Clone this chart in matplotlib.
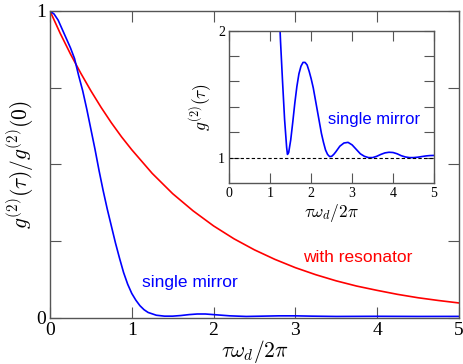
import matplotlib
matplotlib.use("Agg")
import matplotlib.pyplot as plt

plt.rcParams['mathtext.fontset'] = 'cm'

# main panel data
red_x = [0, 0.125, 0.25, 0.375, 0.5, 0.625, 0.75, 0.875, 1.0, 1.25, 1.5, 1.75, 2.0,
         2.25, 2.5, 2.75, 3.0, 3.25, 3.5, 3.75, 4.0, 4.25, 4.5, 4.75, 5.0]
red_y = [1.0, 0.927, 0.860, 0.798, 0.740, 0.686, 0.636, 0.590, 0.548, 0.471, 0.405,
         0.349, 0.300, 0.258, 0.222, 0.191, 0.164, 0.141, 0.121, 0.104, 0.090, 0.077,
         0.066, 0.057, 0.049]

blue_x = [0, 0.05, 0.1, 0.15, 0.2, 0.25, 0.3, 0.35, 0.4, 0.45, 0.5, 0.55, 0.6, 0.65,
          0.7, 0.75, 0.8, 0.85, 0.9, 0.95, 1.0, 1.05, 1.1, 1.15, 1.2, 1.3, 1.4, 1.5,
          1.6, 1.7, 1.8, 1.9, 2.0, 2.2, 2.4, 2.6, 2.8, 3.0, 3.2, 3.5, 4.0, 4.5, 5.0]
blue_y = [1.0, 0.99, 0.97, 0.94, 0.91, 0.88, 0.845, 0.79, 0.74, 0.68, 0.615, 0.55,
          0.48, 0.415, 0.355, 0.30, 0.245, 0.195, 0.148, 0.11, 0.08, 0.058, 0.04,
          0.027, 0.018, 0.009, 0.006, 0.006, 0.008, 0.011, 0.013, 0.013, 0.011, 0.007,
          0.005, 0.006, 0.007, 0.007, 0.006, 0.005, 0.0055, 0.005, 0.0052]

# inset data
ins_x = [1.15, 1.2, 1.25, 1.3, 1.35, 1.4, 1.42, 1.45, 1.5, 1.55, 1.6, 1.65, 1.7, 1.75,
         1.8, 1.85, 1.9, 1.95, 2.0, 2.05, 2.1, 2.15, 2.2, 2.25, 2.3, 2.35, 2.4, 2.45,
         2.5, 2.55, 2.6, 2.7, 2.8, 2.9, 3.0, 3.1, 3.2, 3.3, 3.4, 3.5, 3.6, 3.7, 3.8,
         3.9, 4.0, 4.1, 4.2, 4.3, 4.4, 4.5, 4.6, 4.7, 4.8, 4.9, 5.0]
ins_y = [2.8, 2.3, 1.92, 1.60, 1.30, 1.08, 1.025, 1.04, 1.14, 1.28, 1.43, 1.56, 1.66,
         1.72, 1.75, 1.75, 1.73, 1.68, 1.62, 1.55, 1.46, 1.37, 1.28, 1.19, 1.12, 1.06,
         1.025, 1.008, 1.01, 1.025, 1.045, 1.09, 1.115, 1.12, 1.10, 1.065, 1.03, 1.01,
         1.0, 1.0, 1.01, 1.025, 1.037, 1.042, 1.04, 1.03, 1.015, 1.005, 1.0, 1.0,
         1.003, 1.008, 1.013, 1.016, 1.017]

main_xticks = [0, 1, 2, 3, 4, 5]
main_yticks = [0, 0.25, 0.5, 0.75, 1.0]
main_ylabels = ['0', '', '', '', '1']
ins_yticks = [1.0, 1.2, 1.4, 1.6, 1.8, 2.0]
ins_ylabels = ['1', '', '', '', '', '2']

spine_col = '#555555'
serif = ['Liberation Serif', 'DejaVu Serif']
sans = ['Liberation Sans', 'DejaVu Sans']

fig = plt.figure(figsize=(4.63, 3.64), dpi=100)
ax = fig.add_axes([0.108, 0.1264, 0.883, 0.8434])
ax.plot(red_x, red_y, color='#ff0000', lw=1.2)
ax.plot(blue_x, blue_y, color='#0000ff', lw=1.2)
ax.set_xlim(0, 5)
ax.set_ylim(0, 1)
ax.set_xticks(main_xticks)
ax.set_xticklabels([str(t) for t in main_xticks], family=serif, fontsize=14)
ax.set_yticks(main_yticks)
ax.set_yticklabels(main_ylabels, family=serif, fontsize=14)
ax.tick_params(direction='in', length=8, width=0.8, color=spine_col,
               top=True, right=True, pad=3)
for s in ax.spines.values():
    s.set_color(spine_col)
    s.set_linewidth(1.0)
ax.set_xlabel(r'$\tau\omega_d/2\pi$', fontsize=15.5, labelpad=-1)
ax.set_ylabel(r'$g^{(2)}(\tau)/g^{(2)}(0)$', fontsize=15.5, labelpad=0)
ax.text(1.127, 0.117, 'single mirror', color='#0000ff', family=sans,
        fontsize=12.5, va='center', ha='left')
ax.text(3.10, 0.198, 'with resonator', color='#ff0000', family=sans,
        fontsize=12.5, va='center', ha='left')

ins = fig.add_axes([0.4953, 0.4973, 0.4421, 0.4184])
ins.plot(ins_x, ins_y, color='#0000ff', lw=1.2)
ins.axhline(1.0, color='black', lw=0.8, ls=(0, (3, 2)))
ins.set_xlim(0, 5)
ins.set_ylim(0.8, 2.0)
ins.set_xticks(main_xticks)
ins.set_xticklabels([str(t) for t in main_xticks], family=serif, fontsize=10)
ins.set_yticks(ins_yticks)
ins.set_yticklabels(ins_ylabels, family=serif, fontsize=10)
ins.tick_params(direction='in', length=7, width=0.8, color=spine_col,
                top=True, right=True, pad=3)
for s in ins.spines.values():
    s.set_color(spine_col)
    s.set_linewidth(1.0)
ins.set_xlabel(r'$\tau\omega_d/2\pi$', fontsize=12.5, labelpad=1)
ins.set_ylabel(r'$g^{(2)}(\tau)$', fontsize=12.5, labelpad=3)
ins.text(2.41, 1.30, 'single mirror', color='#0000ff', family=sans,
         fontsize=12, va='center', ha='left')

fig.savefig('out.png', dpi=100)
